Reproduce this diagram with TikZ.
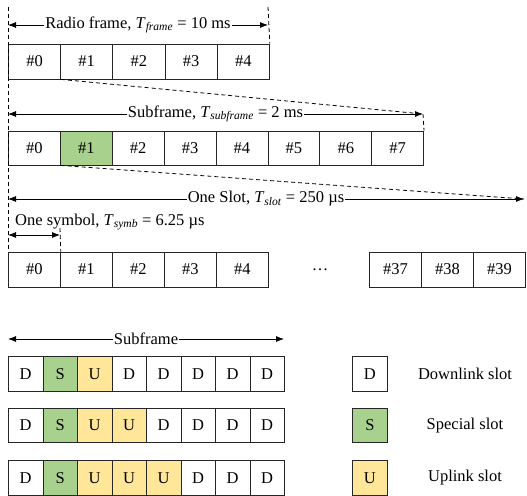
\documentclass[tikz,border=0pt]{standalone}
\usepackage{fontspec}
\setmainfont{Liberation Serif}
\newfontfamily\tnr{Liberation Serif}
\usetikzlibrary{arrows.meta}
\definecolor{sgreen}{HTML}{A9D18E}
\definecolor{uyellow}{HTML}{FFE699}
\definecolor{edge}{HTML}{262626}
\newcommand{\Tsub}[1]{\textit{T}\textsubscript{\textit{#1}}}
\begin{document}
\begin{tikzpicture}[x=1pt,y=-1pt,
  font=\tnr\fontsize{16.5}{19}\selectfont,
  cell/.style={draw=edge, line width=0.8pt, inner sep=0pt, anchor=west},
  dim/.style={{Latex[length=8pt,width=6pt]}-{Latex[length=8pt,width=6pt]}, line width=0.8pt},
  dsh/.style={dash pattern=on 4pt off 3pt, line width=0.8pt},
  lbl/.style={fill=white, inner sep=1pt},
]
\useasboundingbox (0,0) rectangle (527,495);

% row 1: radio frame
\foreach \i in {0,...,4}
  \node[cell, minimum width=52.2pt, minimum height=35pt] (a\i) at ({8+52.2*\i},61.5) {\#\i};

% row 2: subframes
\foreach \i/\c in {0/white,1/sgreen,2/white,3/white,4/white,5/white,6/white,7/white}
  \node[cell, fill=\c, minimum width=51.9pt, minimum height=34pt] (b\i) at ({8+51.9*\i},148) {\#\i};

% row 3: symbols
\foreach \i in {0,...,4}
  \node[cell, minimum width=52pt, minimum height=35pt] (c\i) at ({8+52*\i},269.5) {\#\i};
\node (dots) at (320,269.5) {\ldots};
\foreach \i [count=\k from 0] in {37,38,39}
  \node[cell, minimum width=52pt, minimum height=35pt] (c\i) at ({369+52*\k},269.5) {\#\i};

% dimension arrows
\coordinate (t1L) at (8,25);   \coordinate (t1R) at (268,25);
\coordinate (t2L) at (8,114);  \coordinate (t2R) at (423,114);
\coordinate (t3L) at (8,199);  \coordinate (t3R) at (524,199);
\coordinate (s1L) at (8,235);  \coordinate (s1R) at (60,235);
\coordinate (vtop) at (8,7);   \coordinate (rtop) at (268,7);
\coordinate (s1T) at (60,228);

\draw[dsh] (vtop) -- (c0.north west);
\draw[dsh] (rtop) -- (a4.north east);
\draw[dsh] (a0.south east) -- (t2R);
\draw[dsh] (t2R) -- (b7.north east);
\draw[dsh] (b0.south east) -- (t3R);
\draw[dsh] (s1T) -- (c0.north east);

\draw[dim] (t1L) -- node[lbl] (l1) {Radio frame, \Tsub{frame} = 10 ms} (t1R);
\draw[dim] (t2L) -- node[lbl] (l2) {Subframe, \Tsub{subframe} = 2 ms} (t2R);
\draw[dim] (t3L) -- node[lbl] (l3) {One Slot, \Tsub{slot} = 250 µs} (t3R);
\draw[dim] (s1L) -- (s1R);
\node[anchor=west, inner sep=0pt] (l4) at (15,222) {One symbol, \Tsub{symb} = 6.25 µs};

% bottom: slot formats
\coordinate (t5L) at (8,339); \coordinate (t5R) at (284,339);
\draw[dim] (t5L) -- node[lbl] (l5) {Subframe} (t5R);

\foreach \l/\c [count=\i from 0] in {D/white,S/sgreen,U/uyellow,D/white,D/white,D/white,D/white,D/white}
  \node[cell, fill=\c, minimum width=34.5pt, minimum height=34.5pt] (p\i) at ({8+34.5*\i},374) {\l};
\foreach \l/\c [count=\i from 0] in {D/white,S/sgreen,U/uyellow,U/uyellow,D/white,D/white,D/white,D/white}
  \node[cell, fill=\c, minimum width=34.5pt, minimum height=34.5pt] (q\i) at ({8+34.5*\i},425.5) {\l};
\foreach \l/\c [count=\i from 0] in {D/white,S/sgreen,U/uyellow,U/uyellow,U/uyellow,D/white,D/white,D/white}
  \node[cell, fill=\c, minimum width=34.5pt, minimum height=34.5pt] (r\i) at ({8+34.5*\i},478) {\l};

% legend
\node[cell, fill=white, minimum width=35pt, minimum height=34.5pt] (kD) at (352,374) {D};
\node[cell, fill=sgreen, minimum width=35pt, minimum height=34.5pt] (kS) at (352,425.5) {S};
\node[cell, fill=uyellow, minimum width=35pt, minimum height=34.5pt] (kU) at (352,478) {U};
\node (nD) at (465,374) {Downlink slot};
\node (nS) at (465,425.5) {Special slot};
\node (nU) at (465,478) {Uplink slot};
\end{tikzpicture}
\end{document}
